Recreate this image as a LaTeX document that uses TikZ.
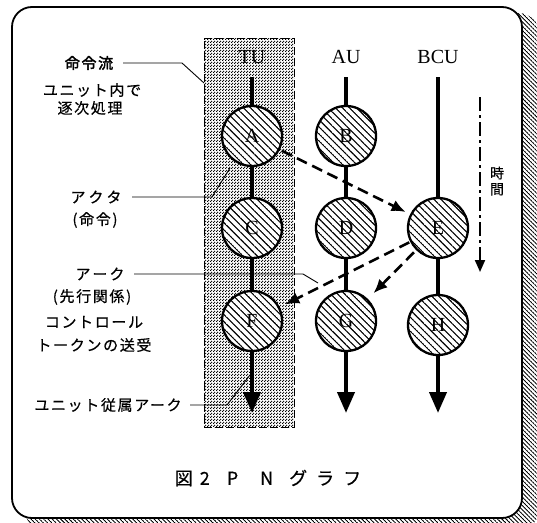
\documentclass[tikz,border=0pt]{standalone}
\usepackage{fontspec}
\setmainfont{Liberation Serif}
\newfontfamily\jp[LetterSpace=11,FakeBold=0.5]{Noto Sans CJK JP}
\newfontfamily\jpbold[LetterSpace=11,FakeBold=2.5]{Noto Sans CJK JP}
\newfontfamily\capfont[FakeBold=0.5]{Noto Sans CJK JP}
\usetikzlibrary{arrows.meta,patterns.meta}

% diagonal hatching inside the actor circles
\tikzdeclarepattern{
  name=actorhatch, type=uncolored,
  bounding box={(0pt,-0.6pt) and (5pt,0.6pt)},
  tile size={(5pt,5pt)},
  tile transformation={rotate=-45},
  code={\draw[line width=1.1pt] (0pt,0pt) -- (5pt,0pt);}
}
% dense hatching of the frame shadow
\tikzdeclarepattern{
  name=shadowhatch, type=uncolored,
  bounding box={(0pt,-0.5pt) and (3pt,0.5pt)},
  tile size={(3pt,3pt)},
  tile transformation={rotate=-45},
  code={\draw[line width=0.9pt] (0pt,0pt) -- (3pt,0pt);}
}
% halftone dot screen of the TU band
\tikzdeclarepattern{
  name=dotscreen, type=uncolored,
  bounding box={(0pt,0pt) and (3pt,3pt)},
  tile size={(3pt,3pt)},
  code={\fill (0.75pt,0.75pt) circle (0.95pt); \fill (2.25pt,2.25pt) circle (0.95pt);}
}

\begin{document}
\begin{tikzpicture}[x=1pt,y=-1pt,
  actor/.style={circle, draw, line width=2.3pt, minimum size=60pt, inner sep=0pt,
    preaction={fill=white}, pattern=actorhatch, font=\fontsize{20}{20}\selectfont},
  unitlab/.style={font=\fontsize{20}{20}\selectfont, inner sep=0pt},
  stream/.style={line width=4pt},
  streamend/.style={line width=4pt, -{Triangle[width=17pt,length=21pt]}},
  token/.style={line width=2.6pt, dash pattern=on 11pt off 6pt,
    -{Latex[width=12pt,length=14pt]}},
  leader/.style={line width=0.9pt},
  note/.style={font=\fontsize{15}{15}\selectfont\jp, inner sep=0pt},
]
\useasboundingbox (0,0) rectangle (537,522);

% frame with hatched shadow
\begin{scope}
  \clip (0,0) rectangle (537,522);
  \path[pattern=shadowhatch, rounded corners=22pt] (24,13) rectangle (540,530);
\end{scope}
\draw[line width=1.8pt, fill=white, rounded corners=20pt] (12,7) rectangle (522,518);

% TU band
\node[draw, dashed, dash pattern=on 8pt off 3pt, line width=1pt, pattern=dotscreen,
  minimum width=90pt, minimum height=389pt, inner sep=0pt] (band) at (249,232.5) {};

% unit headings
\node[unitlab] (tu)  at (252,57) {TU};
\node[unitlab] (au)  at (346,57) {AU};
\node[unitlab] (bcu) at (438,57) {BCU};

% explanatory notes
\node[note, font=\fontsize{15}{15}\selectfont\jpbold] (flow) at (89,63) {命令流};
\node[note] (flow2) at (92,90) {ユニット内で};
\node[note] (flow3) at (90,108) {逐次処理};
\node[note] (actorlab) at (96,197) {ア\kern3pt ク\kern3pt タ};
\node[note] (actorlab2) at (95,220) {(命令)};
\node[note] (arclab) at (100,274) {ア\kern2pt ー\kern2pt ク};
\node[note] (arclab2) at (92,297) {(先行関係)};
\node[note] (arclab3) at (94,322) {コントロール};
\node[note] (arclab4) at (94,345) {トークンの送受};
\node[note] (deplab) at (108,405) {ユニット従属アーク};

% leader lines
\coordinate (f0) at (123,63);  \coordinate (f1) at (182,63);  \coordinate (f2) at (204,83);
\coordinate (a0) at (132,197); \coordinate (a1) at (212,197); \coordinate (a2) at (230,168);
\coordinate (k0) at (134,274); \coordinate (k1) at (303,274); \coordinate (k2) at (318,283);
\coordinate (d0) at (190,405); \coordinate (d1) at (227,405); \coordinate (d2) at (250,375);
\draw[leader] (f0) -- (f1) -- (f2);
\draw[leader] (a0) -- (a1) -- (a2);
\draw[leader] (k0) -- (k1) -- (k2);
\draw[leader] (d0) -- (d1) -- (d2);

% actors
\node[actor] (A) at (252,136) {A};
\node[actor] (B) at (346,136) {B};
\node[actor] (C) at (252,228) {C};
\node[actor] (D) at (346,228) {D};
\node[actor] (E) at (438,228) {E};
\node[actor] (F) at (252,321) {F};
\node[actor] (G) at (346,321) {G};
\node[actor] (H) at (438,325) {H};

% instruction streams
\coordinate (tutop) at (252,77);  \coordinate (tuend) at (252,413);
\coordinate (autop) at (346,77);  \coordinate (auend) at (346,413);
\coordinate (bctop) at (438,77);  \coordinate (bcend) at (438,413);
\draw[stream] (tutop) -- (A.north);
\draw[stream] (A.south) -- (C.north);
\draw[stream] (C.south) -- (F.north);
\draw[streamend] (F.south) -- (tuend);
\draw[stream] (autop) -- (B.north);
\draw[stream] (B.south) -- (D.north);
\draw[stream] (D.south) -- (G.north);
\draw[streamend] (G.south) -- (auend);
\draw[stream] (bctop) -- (E.north);
\draw[stream] (E.south) -- (H.north);
\draw[streamend] (H.south) -- (bcend);

% control tokens between units
\draw[token, shorten <=2pt, shorten >=5pt] (A) -- (E);
\draw[token, shorten <=1pt, shorten >=6pt] (E) -- (F);
\draw[token, shorten <=3pt, shorten >=8pt] (E) -- (G);

% time axis
\coordinate (t0) at (480,97); \coordinate (t1) at (480,272);
\draw[line width=2pt, dash pattern=on 14pt off 4pt on 3pt off 4pt,
  -{Triangle[width=10pt,length=12pt]}] (t0) -- (t1);
\node[font=\fontsize{14}{15}\selectfont\capfont, inner sep=0pt, align=center] (time)
  at (497,181) {時\\[1pt]間};

% caption
\node[font=\fontsize{18}{18}\selectfont\capfont, inner sep=0pt] (cap) at (268,478)
  {図\kern7pt 2\kern17pt P\kern22pt N\kern16pt グ\kern9pt ラ\kern9pt フ};
\end{tikzpicture}
\end{document}
